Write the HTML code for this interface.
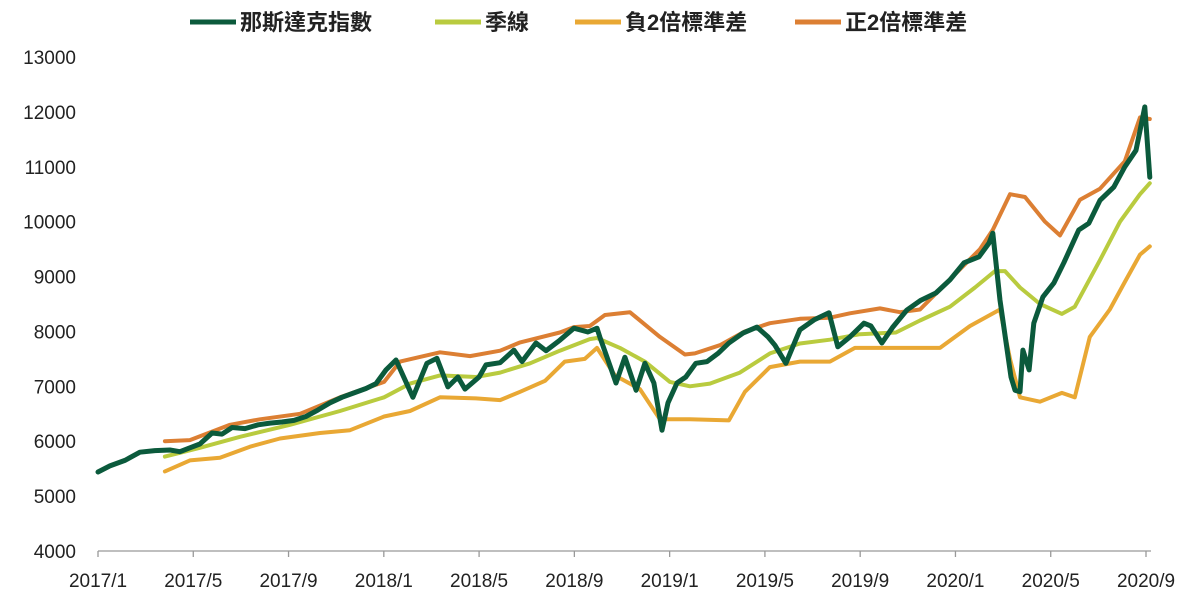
<!DOCTYPE html>
<html><head><meta charset="utf-8">
<style>
html,body{margin:0;padding:0;background:#fff;}
svg{display:block;font-family:"Liberation Sans","Noto Sans CJK TC",sans-serif;}
</style></head>
<body>
<svg id="chart" width="1197" height="609" viewBox="0 0 1197 609" xmlns="http://www.w3.org/2000/svg">
  <g id="legend"></g>
  <g id="yaxis"></g>
  <g id="xaxis"></g>
  <g id="series"></g>
</svg>
<script>
// ---- data (months since 2017/1) ----
const xTickLabels = ["2017/1","2017/5","2017/9","2018/1","2018/5","2018/9","2019/1","2019/5","2019/9","2020/1","2020/5","2020/9"];
const yTickLabels = [4000,5000,6000,7000,8000,9000,10000,11000,12000,13000];
const seriesNames = ["那斯達克指數","季線","負2倍標準差","正2倍標準差"];

const nasdaqMonths = [0,0.50,1.13,1.76,2.39,3.02,3.44,3.86,4.28,4.79,5.21,5.63,6.17,6.72,7.22,7.72,8.23,8.73,9.24,9.74,10.24,10.75,11.25,11.67,12.09,12.51,13.22,13.81,14.23,14.69,15.11,15.41,16.00,16.29,16.88,17.46,17.80,18.39,18.81,19.39,19.98,20.57,20.95,21.07,21.37,21.75,22.12,22.59,22.96,23.34,23.68,23.93,24.31,24.68,25.10,25.57,26.03,26.49,27.08,27.67,28.13,28.42,28.88,29.47,30.06,30.69,31.06,31.57,32.16,32.45,32.91,33.37,33.96,34.55,35.18,35.77,36.36,36.99,37.41,37.57,37.87,38.33,38.50,38.71,38.83,39.09,39.29,39.67,40.13,40.55,41.18,41.60,42.07,42.65,43.11,43.58,43.95,44.16];
const nasdaqValues = [5440,5550,5650,5800,5830,5840,5810,5880,5950,6150,6130,6250,6230,6300,6330,6350,6380,6450,6570,6700,6800,6880,6960,7050,7300,7480,6800,7420,7510,6990,7170,6950,7170,7390,7430,7660,7450,7790,7650,7840,8060,7990,8060,7900,7530,7060,7530,6930,7420,7060,6200,6700,7060,7170,7420,7450,7600,7790,7970,8080,7900,7750,7420,8030,8210,8340,7720,7900,8150,8100,7790,8080,8390,8570,8700,8940,9250,9360,9610,9790,8570,7170,6930,6900,7660,7300,8150,8630,8880,9250,9850,9970,10390,10630,11000,11300,12090,10810];

const maMonths = [2.81,4.28,5.96,8.06,10.16,12.01,13.10,14.36,15.87,16.88,18.14,19.39,20.65,20.95,21.91,22.96,24.01,24.85,25.69,26.95,28.21,29.47,30.73,31.99,33.50,34.51,35.77,36.82,37.66,38.08,38.71,39.55,40.47,41.01,42.07,42.91,43.75,44.16];
const maValues = [5720,5880,6080,6300,6550,6800,7050,7200,7170,7250,7420,7650,7860,7880,7700,7450,7080,7000,7050,7250,7600,7780,7850,7950,7980,8200,8450,8800,9100,9100,8800,8500,8320,8450,9300,10000,10500,10700];

const lowerMonths = [2.81,3.86,5.12,6.38,7.64,9.32,10.58,12.01,13.10,14.36,15.87,16.88,17.72,18.77,19.60,20.44,20.95,21.70,22.75,23.59,24.85,26.49,27.16,28.21,29.47,30.73,31.78,32.83,34.09,35.35,36.61,37.66,37.87,38.29,38.71,39.55,40.47,41.01,41.64,42.48,43.11,43.75,44.16];
const lowerValues = [5450,5650,5700,5900,6050,6150,6200,6450,6550,6800,6780,6750,6900,7100,7450,7500,7700,7200,6950,6400,6400,6380,6900,7350,7450,7450,7700,7700,7700,7700,8100,8350,8400,7500,6800,6720,6880,6800,7900,8400,8900,9400,9550];

const upperMonths = [2.81,3.86,5.54,6.80,8.48,10.16,12.01,12.68,14.36,15.62,16.88,17.72,19.39,19.98,20.65,21.28,22.33,23.59,24.64,25.06,26.11,27.16,28.21,29.47,30.73,31.57,32.83,33.67,34.51,35.77,37.03,37.57,38.29,38.92,39.76,40.39,41.23,42.07,43.11,43.75,44.16];
const upperValues = [6000,6020,6300,6400,6500,6800,7080,7450,7620,7550,7650,7800,7980,8080,8100,8300,8350,7900,7580,7600,7750,8000,8150,8230,8250,8330,8420,8350,8400,8950,9500,9850,10500,10450,10000,9750,10400,10600,11100,11900,11870];

// ---- scales ----
const X0 = 98, X1 = 1146, MONTHS = 44;
const Y0 = 551, Y1 = 57, VMIN = 4000, VMAX = 13000;
function xScale(m){ return X0 + (X1 - X0) * m / MONTHS; }
function yScale(v){ return Y0 - (Y0 - Y1) * (v - VMIN) / (VMAX - VMIN); }
const NS = "http://www.w3.org/2000/svg";
function mk(tag, attrs, parent){ const e=document.createElementNS(NS,tag); for(const k in attrs) e.setAttribute(k,attrs[k]); parent.appendChild(e); return e; }

// y axis labels
const yax = document.getElementById('yaxis');
yTickLabels.forEach(v=>{
  const t = mk('text',{x:76,y:yScale(v)+7,'text-anchor':'end','font-size':19,fill:'#222'},yax);
  
  
  t.textContent = v;
});
// x axis
const xax = document.getElementById('xaxis');
const axl = mk('line',{x1:X0,y1:Y0,x2:1151,y2:Y0,stroke:'#999','stroke-width':1.3},xax);


xTickLabels.forEach((lab,i)=>{
  const x = xScale(i*4);
  const tk = mk('line',{x1:x,y1:Y0,x2:x,y2:Y0+6,stroke:'#999','stroke-width':1.3},xax);
  
  
  const t = mk('text',{x:x,y:587,'text-anchor':'middle','font-size':19,fill:'#222'},xax);
  
  
  t.textContent = lab;
});

// series
const sg = document.getElementById('series');
function drawLine(ms, vs, color, w, name){
  let d = '';
  ms.forEach((m,i)=>{ d += (i?'L':'M') + xScale(m).toFixed(1) + ',' + yScale(vs[i]).toFixed(1); });
  const p = mk('path',{d:d,fill:'none',stroke:color,'stroke-width':w,'stroke-linejoin':'round','stroke-linecap':'round'},sg);
  
  
}
const colors = ['#0b5a3c','#b9cb3f','#e9a834','#dc7f33'];
drawLine(lowerMonths, lowerValues, colors[2], 4, 'lower-band-line');
drawLine(maMonths, maValues, colors[1], 4, 'quarter-ma-line');
drawLine(upperMonths, upperValues, colors[3], 4, 'upper-band-line');
drawLine(nasdaqMonths, nasdaqValues, colors[0], 5, 'nasdaq-line');

// legend
const lg = document.getElementById('legend');
const legX = [190, 435, 575, 795];
seriesNames.forEach((n,i)=>{
  const l = mk('line',{x1:legX[i],y1:22,x2:legX[i]+46,y2:22,stroke:colors[i],'stroke-width':5},lg);
  
  
  const t = mk('text',{x:legX[i]+50,y:30,'font-size':22,'font-weight':'bold',fill:'#222'},lg);
  
  
  t.textContent = n;
});
</script>
</body></html>
